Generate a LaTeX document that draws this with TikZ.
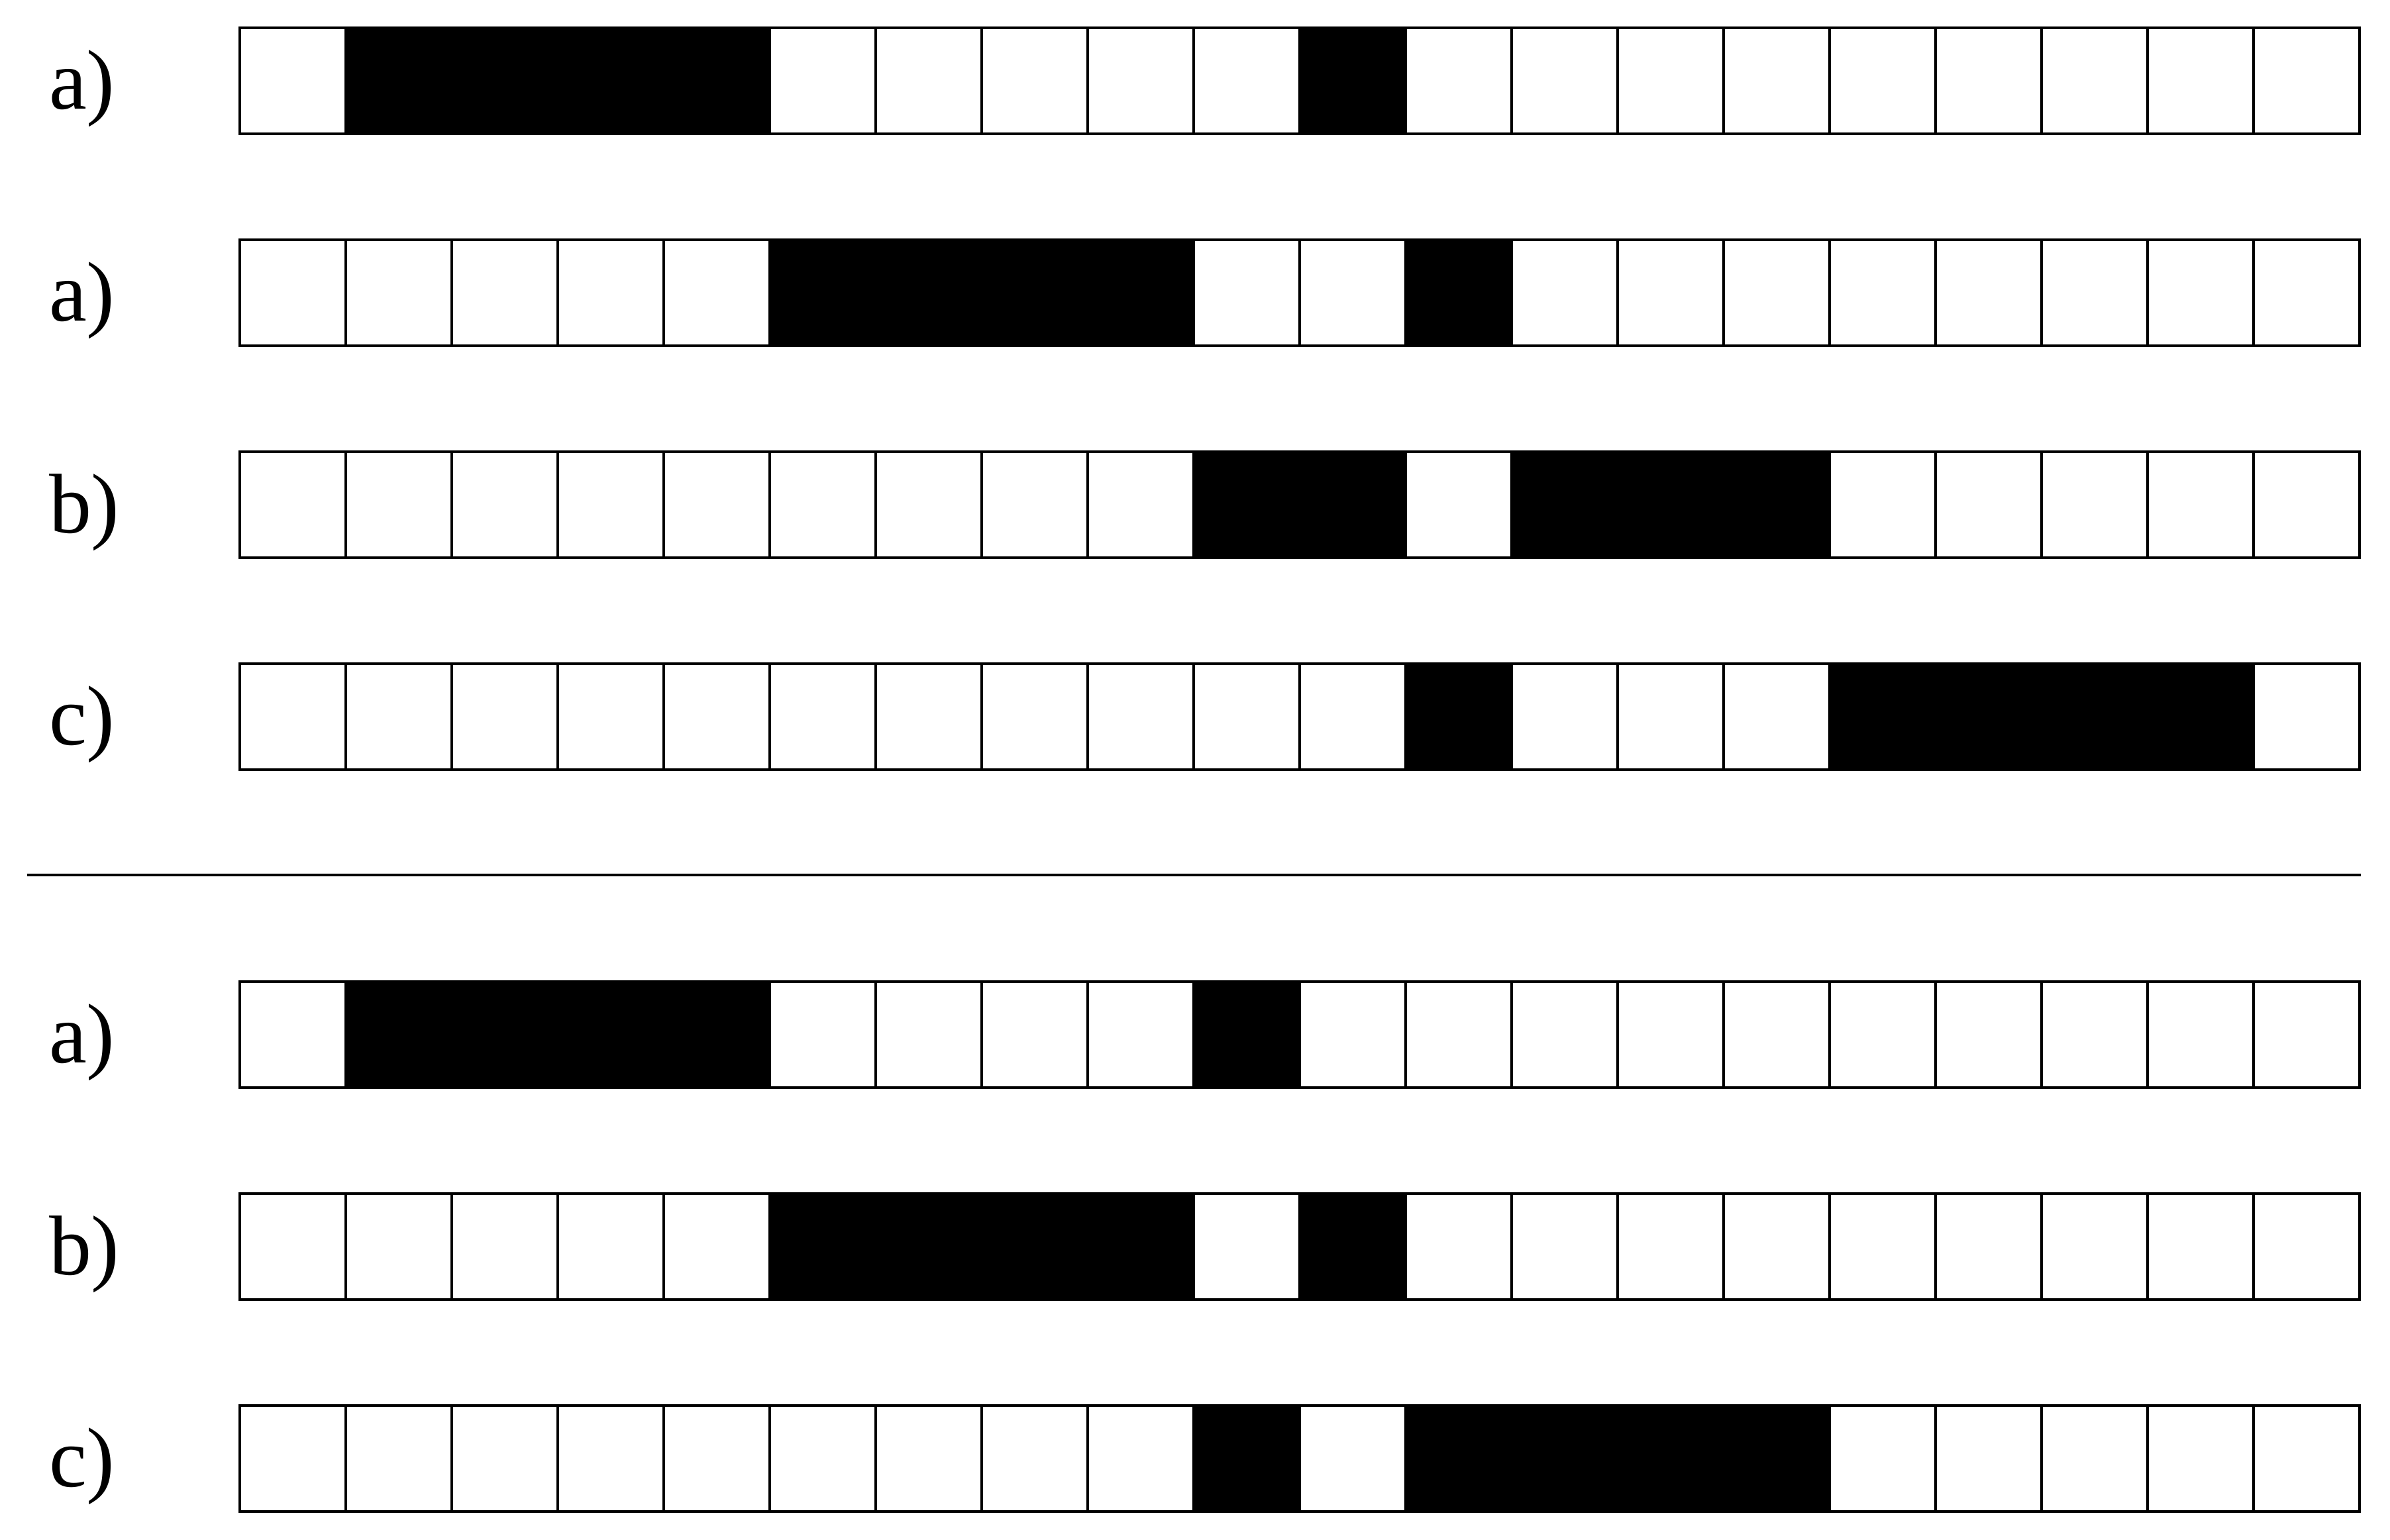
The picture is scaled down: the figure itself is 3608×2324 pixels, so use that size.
\documentclass[tikz,border=0pt]{standalone}
\usepackage{fontspec}
\setmainfont{Liberation Serif}
\newfontfamily\lblfont{Liberation Serif}
\newcommand\cellrow[4]{%
  \node[lbl] (#1) at (72,#2+122) {#3};
  \foreach \i in {0,...,19} {\draw[cellbox] (362+160*\i,#2) rectangle ++(160,160);}
  \foreach \i in {#4} {\draw[blackcell] (362+160*\i,#2) rectangle ++(160,160);}
}
\begin{document}
\begin{tikzpicture}[x=0.1pt,y=-0.1pt,
  cellbox/.style={draw=black,fill=white,line width=0.4pt},
  blackcell/.style={draw=black,fill=black,line width=0.4pt},
  lbl/.style={anchor=base west,inner sep=0pt,font=\lblfont\fontsize{12.8}{15}\selectfont},
  sepline/.style={draw=black,line width=0.45pt}]
\useasboundingbox (0,0) rectangle (3608,2324);
\cellrow{l1}{42}{a)}{1,2,3,4,10}
\cellrow{l2}{362}{a)}{5,6,7,8,11}
\cellrow{l3}{682}{b)}{9,10,12,13,14}
\cellrow{l4}{1002}{c)}{11,15,16,17,18}
\coordinate (sepL) at (41,1321);
\coordinate (sepR) at (3564,1321);
\draw[sepline] (sepL) -- (sepR);
\cellrow{l5}{1482}{a)}{1,2,3,4,9}
\cellrow{l6}{1802}{b)}{5,6,7,8,10}
\cellrow{l7}{2122}{c)}{9,11,12,13,14}
\end{tikzpicture}
\end{document}
